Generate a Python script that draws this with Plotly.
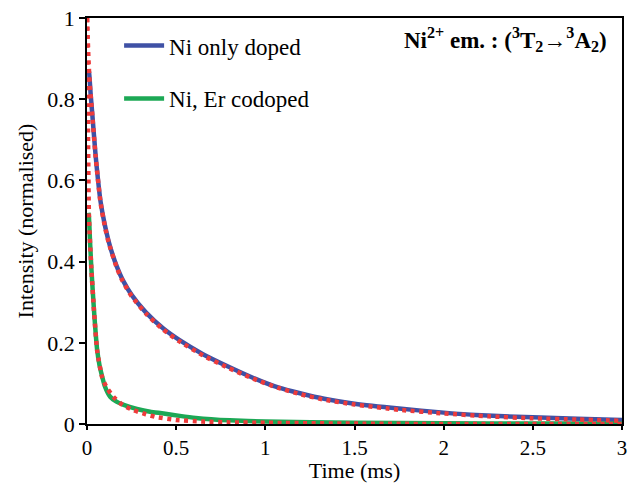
import plotly.graph_objects as go

t_ni = [0.008, 0.011, 0.02, 0.03, 0.048, 0.062, 0.076, 0.1, 0.122, 0.145, 0.168, 0.2, 0.25, 0.33, 0.428, 0.517, 0.65, 0.794, 0.93, 1.072, 1.2, 1.33, 1.5, 1.75, 2.0, 2.18, 2.5, 2.75, 3.0]
i_ni = [0.87, 0.868, 0.815, 0.761, 0.663, 0.60, 0.548, 0.49, 0.449, 0.415, 0.387, 0.355, 0.318, 0.275, 0.235, 0.207, 0.172, 0.141, 0.114, 0.09, 0.075, 0.062, 0.05, 0.038, 0.028, 0.022, 0.0165, 0.013, 0.01]

# Measured decay, Ni, Er codoped
t_er = [0.008, 0.011, 0.017, 0.024, 0.039, 0.057, 0.07, 0.085, 0.1, 0.13, 0.165, 0.206, 0.28, 0.354, 0.43, 0.52, 0.61, 0.8, 1.0, 1.5, 2.0, 2.5, 3.0]
i_er = [0.52, 0.51, 0.45, 0.387, 0.281, 0.182, 0.145, 0.117, 0.093, 0.067, 0.055, 0.047, 0.037, 0.03, 0.026, 0.02, 0.015, 0.009, 0.006, 0.003, 0.002, 0.001, 0.001]

# Fitted curves (red dotted)
t_fit1 = [0.0, 0.004, 0.008, 0.015, 0.03, 0.048, 0.076, 0.1, 0.122, 0.168, 0.2, 0.25, 0.33, 0.428, 0.517, 0.65, 0.794, 0.93, 1.072, 1.2, 1.33, 1.5, 1.75, 2.0, 2.25, 2.5, 2.75, 3.0]
i_fit1 = [1.0, 0.95, 0.9, 0.84, 0.758, 0.66, 0.545, 0.487, 0.446, 0.384, 0.352, 0.315, 0.272, 0.232, 0.204, 0.169, 0.138, 0.112, 0.089, 0.073, 0.06, 0.048, 0.035, 0.026, 0.019, 0.014, 0.011, 0.008]

t_fit2 = [0.0, 0.005, 0.011, 0.024, 0.039, 0.057, 0.085, 0.11, 0.15, 0.2, 0.26, 0.33, 0.39, 0.5, 0.65, 0.8, 1.0, 1.5, 2.0, 3.0]
i_fit2 = [1.0, 0.75, 0.51, 0.385, 0.28, 0.18, 0.115, 0.09, 0.066, 0.047, 0.034, 0.024, 0.017, 0.01, 0.006, 0.004, 0.003, 0.001, 0.0, 0.0]

x_ticks = [0, 0.5, 1, 1.5, 2, 2.5, 3]
x_tick_labels = ["0", "0.5", "1", "1.5", "2", "2.5", "3"]
y_ticks = [0, 0.2, 0.4, 0.6, 0.8, 1]
y_tick_labels = ["0", "0.2", "0.4", "0.6", "0.8", "1"]

BLUE = "#3F51A5"
GREEN = "#1CA855"
RED = "#EE3B3B"
FONT = "'Liberation Serif', 'Times New Roman', serif"

fig = go.Figure()
fig.add_trace(go.Scatter(x=t_ni, y=i_ni, mode="lines", name="Ni only doped",
                         line=dict(color=BLUE, width=4.5, shape="spline", smoothing=0.5),
                         legendgroup="a"))
fig.add_trace(go.Scatter(x=t_er, y=i_er, mode="lines", name="Ni, Er codoped",
                         line=dict(color=GREEN, width=4.5, shape="spline", smoothing=0.5),
                         legendgroup="b"))
fig.add_trace(go.Scatter(x=t_fit1, y=i_fit1, mode="lines", showlegend=False,
                         line=dict(color=RED, width=4.5, dash="4px,4.5px", shape="spline", smoothing=0.5)))
fig.add_trace(go.Scatter(x=t_fit2, y=i_fit2, mode="lines", showlegend=False,
                         line=dict(color=RED, width=4.5, dash="4px,4.5px", shape="spline", smoothing=0.5)))

fig.update_layout(
    width=630, height=483,
    margin=dict(l=87, r=3, t=18, b=59),
    paper_bgcolor="white", plot_bgcolor="white",
    font=dict(family=FONT, size=22, color="black"),
    showlegend=True,
    legend=dict(x=0.06, y=0.985, xanchor="left", yanchor="top",
                bgcolor="rgba(0,0,0,0)", font=dict(family=FONT, size=23),
                tracegroupgap=20, traceorder="grouped", itemwidth=40),
    xaxis=dict(range=[0, 3], tickvals=x_ticks, ticktext=x_tick_labels,
               showgrid=False, zeroline=False, showline=True, linecolor="black",
               linewidth=1.5, mirror=True, ticks="outside", ticklen=4,
               tickcolor="black", tickwidth=1.5, ticklabeloverflow="allow",
               title=dict(text="Time (ms)", font=dict(family=FONT, size=22), standoff=0),
               tickfont=dict(family=FONT, size=21)),
    yaxis=dict(range=[0, 1], tickvals=y_ticks, ticktext=y_tick_labels,
               showgrid=False, zeroline=False, showline=True, linecolor="black",
               linewidth=1.5, mirror=True, ticks="outside", ticklen=6,
               tickcolor="black", tickwidth=1.5,
               title=dict(text="Intensity (normalised)", font=dict(family=FONT, size=22), standoff=8),
               tickfont=dict(family=FONT, size=22)),
    annotations=[dict(
        text="<b>Ni<sup>2+</sup> em. : (<sup>3</sup>T<sub>2</sub>→<sup>3</sup>A<sub>2</sub>)</b>",
        x=0.975, y=0.99, xref="paper", yref="paper", xanchor="right", yanchor="top",
        showarrow=False, font=dict(family=FONT, size=23, color="black"))],
)

fig.write_html("out.html")
